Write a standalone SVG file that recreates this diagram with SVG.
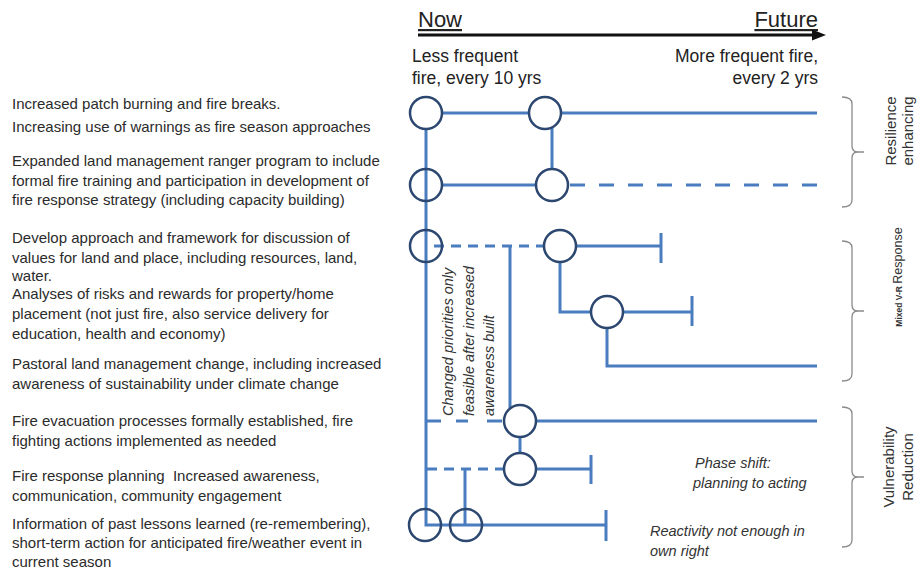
<svg xmlns="http://www.w3.org/2000/svg" width="921" height="569" viewBox="0 0 921 569">
<defs>
<style>
.lt{font-family:"Liberation Sans",Arial,sans-serif;font-size:15px;fill:#2b2b2b}
.hd{font-family:"Liberation Sans",Arial,sans-serif;font-size:17.5px;fill:#222}
.big{font-family:"Liberation Sans",Arial,sans-serif;font-size:22px;fill:#222;text-decoration:underline}
.it{font-family:"Liberation Sans",Arial,sans-serif;font-size:14.5px;font-style:italic;fill:#333}
.rl{font-family:"Liberation Sans",Arial,sans-serif;font-size:15px;fill:#333}
.ln{stroke:#4a7dc0;stroke-width:3;fill:none}
.dl{stroke:#4a7dc0;stroke-width:3;fill:none;stroke-dasharray:10 7}
.dl2{stroke:#4a7dc0;stroke-width:3;fill:none;stroke-dasharray:15 14}
.nd{stroke:#2c4770;stroke-width:2.5;fill:none}
.br{stroke:#8a8a8a;stroke-width:1.3;fill:none}
</style>
</defs>
<rect width="921" height="569" fill="#fff"/>

<g id="timeline">
<text class="big" x="418" y="27">Now</text>
<text class="big" x="818" y="27" text-anchor="end">Future</text>
<line x1="418" y1="35" x2="814" y2="35" stroke="#111" stroke-width="3"/>
<polygon points="826,35 812,29.5 812,40.5" fill="#111"/>
<text class="hd" x="412" y="62">Less frequent</text>
<text class="hd" x="412" y="84">fire, every 10 yrs</text>
<text class="hd" x="818" y="62" text-anchor="end">More frequent fire,</text>
<text class="hd" x="818" y="84" text-anchor="end">every 2 yrs</text>
</g>

<g id="labels-left">
<g id="t1"><text class="lt" x="12" y="109">Increased patch burning and fire breaks.</text>
<text class="lt" x="12" y="132">Increasing use of warnings as fire season approaches</text></g>
<g id="t2"><text class="lt" x="12" y="166">Expanded land management ranger program to include</text>
<text class="lt" x="12" y="186">formal fire training and participation in development of</text>
<text class="lt" x="12" y="205">fire response strategy (including capacity building)</text></g>
<g id="t3"><text class="lt" x="12" y="243">Develop approach and framework for discussion of</text>
<text class="lt" x="12" y="263">values for land and place, including resources, land,</text>
<text class="lt" x="12" y="281">water.</text>
<text class="lt" x="12" y="299">Analyses of risks and rewards for property/home</text>
<text class="lt" x="12" y="319">placement (not just fire, also service delivery for</text>
<text class="lt" x="12" y="339">education, health and economy)</text></g>
<g id="t4"><text class="lt" x="12" y="369">Pastoral land management change, including increased</text>
<text class="lt" x="12" y="389">awareness of sustainability under climate change</text></g>
<g id="t5"><text class="lt" x="12" y="426">Fire evacuation processes formally established, fire</text>
<text class="lt" x="12" y="446">fighting actions implemented as needed</text></g>
<g id="t6"><text class="lt" x="12" y="481" xml:space="preserve">Fire response planning  Increased awareness,</text>
<text class="lt" x="12" y="501">communication, community engagement</text></g>
<g id="t7"><text class="lt" x="12" y="529">Information of past lessons learned (re-remembering),</text>
<text class="lt" x="12" y="548">short-term action for anticipated fire/weather event in</text>
<text class="lt" x="12" y="567">current season</text></g>
</g>

<g id="connectors">
<path class="ln" d="M426,129 V525 H606"/>
<line class="ln" x1="442" y1="113" x2="529" y2="113"/>
<line class="ln" x1="561" y1="113" x2="817" y2="113"/>
<line class="ln" x1="552" y1="127" x2="552" y2="169"/>
<line class="ln" x1="442" y1="185" x2="536" y2="185"/>
<line class="dl2" x1="570" y1="185" x2="817" y2="185"/>
<line class="dl" x1="434" y1="246" x2="544" y2="246"/>
<line class="ln" x1="510" y1="246" x2="510" y2="408"/>
<line class="ln" x1="576" y1="246" x2="661" y2="246"/>
<line class="ln" x1="661" y1="233" x2="661" y2="263"/>
<path class="ln" d="M560,262 V312 H591"/>
<line class="ln" x1="623" y1="312" x2="692" y2="312"/>
<line class="ln" x1="692" y1="296" x2="692" y2="326"/>
<path class="ln" d="M607,328 V366 H817"/>
<line class="ln" x1="427" y1="421" x2="441" y2="421"/>
<line class="ln" x1="456" y1="421" x2="468" y2="421"/>
<line class="ln" x1="487" y1="421" x2="502" y2="421"/>
<line class="ln" x1="536" y1="421" x2="817" y2="421"/>
<line class="ln" x1="520" y1="437" x2="520" y2="453"/>
<line class="dl" x1="427" y1="469" x2="504" y2="469"/>
<line class="ln" x1="536" y1="469" x2="591" y2="469"/>
<line class="ln" x1="591" y1="455" x2="591" y2="484"/>
<line class="ln" x1="465" y1="469" x2="465" y2="525"/>
<line class="ln" x1="606" y1="510" x2="606" y2="541"/>
</g>

<g id="nodes">
<g id="n1a"><circle class="nd" cx="426" cy="113" r="16"/></g>
<g id="n1b"><circle class="nd" cx="545" cy="113" r="16"/></g>
<g id="n2a"><circle class="nd" cx="426" cy="185" r="16"/></g>
<g id="n2b"><circle class="nd" cx="552" cy="185" r="16"/></g>
<g id="n3a"><circle class="nd" cx="426" cy="246" r="16"/></g>
<g id="n3b"><circle class="nd" cx="560" cy="246" r="16"/></g>
<g id="n4"><circle class="nd" cx="607" cy="312" r="16"/></g>
<g id="n6"><circle class="nd" cx="520" cy="421" r="16"/></g>
<g id="n7"><circle class="nd" cx="520" cy="469" r="16"/></g>
<g id="n8a"><circle class="nd" cx="425" cy="525" r="16"/></g>
<g id="n8b"><circle class="nd" cx="466" cy="525" r="16"/></g>
</g>

<g id="note-priorities">
<text class="it" transform="translate(453,416) rotate(-90)"><tspan x="0" y="0">Changed priorities only</tspan><tspan x="0" y="21">feasible after increased</tspan><tspan x="0" y="41">awareness built</tspan></text>
</g>
<g id="note-phase">
<text class="it" x="695" y="468">Phase shift:</text>
<text class="it" x="693" y="488">planning to acting</text>
</g>
<g id="note-reactivity">
<text class="it" x="650" y="536">Reactivity not enough in</text>
<text class="it" x="650" y="556">own right</text>
</g>

<g id="braces">
<path class="br" d="M842,97 Q852,97 852,104 V146 Q852,152 858,152 H864 M858,152 Q852,152 852,158 V200 Q852,207 842,207"/>
<path class="br" d="M842,241 Q852,241 852,248 V305 Q852,311 858,311 H864 M858,311 Q852,311 852,317 V374 Q852,381 842,381"/>
<path class="br" d="M842,407 Q852,407 852,414 V471 Q852,477 858,477 H864 M858,477 Q852,477 852,483 V540 Q852,547 842,547"/>
</g>

<g id="group-labels">
<g id="lbl-resilience"><text class="rl" transform="translate(896,131) rotate(-90)" text-anchor="middle"><tspan x="0" y="0">Resilience</tspan><tspan x="0" y="17">enhancing</tspan></text></g>
<g id="lbl-mixed"><text class="rl" transform="translate(902,277) rotate(-90)" text-anchor="middle"><tspan font-size="8.5" font-weight="bold">Mixed V-R </tspan><tspan font-size="12.5">Response</tspan></text></g>
<g id="lbl-vulnerability"><text class="rl" transform="translate(894,467) rotate(-90)" text-anchor="middle"><tspan x="0" y="0">Vulnerability</tspan><tspan x="0" y="19">Reduction</tspan></text></g>
</g>
</svg>
